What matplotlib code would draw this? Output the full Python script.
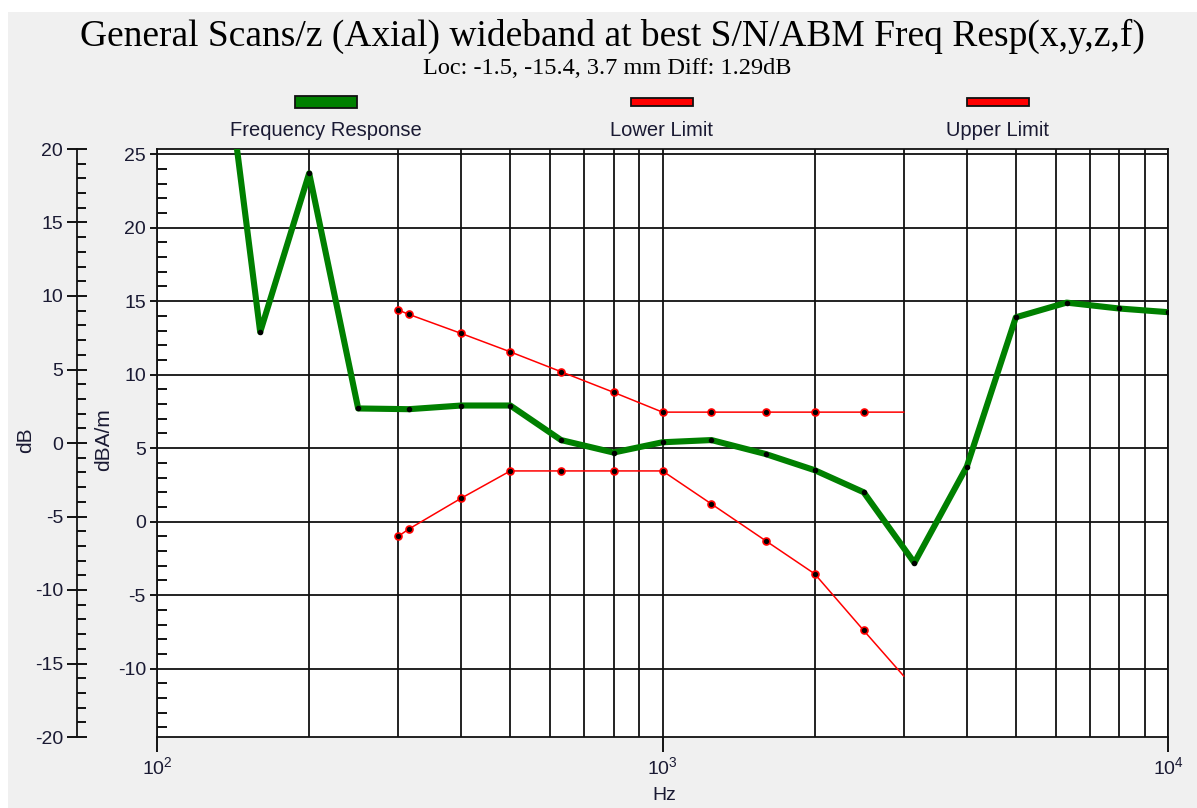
import numpy as np
import matplotlib
matplotlib.use("Agg")
from matplotlib import pyplot as plt, ticker as mtick
from matplotlib.patches import Rectangle

plt.rcParams['font.family'] = ['Liberation Sans', 'DejaVu Sans']
plt.rcParams['mathtext.default'] = 'regular'
plt.rcParams['axes.unicode_minus'] = False

# Measured frequency response (dBA/m) and limit lines
freq_hz = [125, 160, 200, 250, 315, 400, 500, 630, 800, 1000, 1250, 1600, 2000, 2500, 3150, 4000, 5000, 6300, 8000, 10000]
response_dba = [42.0, 12.9, 23.7, 7.7, 7.65, 7.9, 7.9, 5.55, 4.7, 5.4, 5.55, 4.6, 3.5, 2.0, -2.8, 3.75, 13.9, 14.9, 14.5, 14.25]

limit_freq = [300, 315, 400, 500, 630, 800, 1000, 1250, 1600, 2000, 2500, 3000]
upper_limit = [14.4, 14.1, 12.8, 11.55, 10.2, 8.8, 7.45, 7.45, 7.45, 7.45, 7.45, 7.45]
lower_limit = [-1.0, -0.5, 1.6, 3.45, 3.45, 3.45, 3.45, 1.2, -1.3, -3.55, -7.4, -10.5]

title = "General Scans/z (Axial) wideband at best S/N/ABM Freq Resp(x,y,z,f)"
subtitle = "Loc: -1.5, -15.4, 3.7 mm Diff: 1.29dB"
legend_names = ["Frequency Response", "Lower Limit", "Upper Limit"]
legend_colors = ["#008000", "#ff0000", "#ff0000"]

W, H = 1197, 808
fig = plt.figure(figsize=(W / 100, H / 100), dpi=100, facecolor="white")
fig.patches.append(Rectangle((8 / W, 0), 1, 1 - 12 / H, transform=fig.transFigure,
                             facecolor="#f0f0f0", edgecolor="none", zorder=-10))

txt_color = "#1a1a33"
left, right, top, bottom = 157 / W, 1168 / W, 1 - 149 / H, 1 - 737 / H

# Main plot (dBA/m)
ax = fig.add_axes([left, bottom, right - left, top - bottom])
ax.set_facecolor("white")
ax.set_xscale("log")
ax.set_xlim(100, 10000)
ax.set_ylim(-14.65, 25.35)

ax.plot(freq_hz, response_dba, color="#008000", lw=4.4, zorder=5, solid_joinstyle="round")
ax.plot(freq_hz, response_dba, "o", color="black", ms=3, zorder=6)
for lim in [upper_limit, lower_limit]:
    ax.plot(limit_freq, lim, color="#ff0000", lw=1.1, zorder=4)
    ax.plot(limit_freq[:-1], lim[:-1], "o", mfc="black", mec="#ff0000", mew=1.2, ms=5, zorder=4)

ax.xaxis.set_major_locator(mtick.LogLocator(base=10, numticks=10))
ax.xaxis.set_minor_locator(mtick.LogLocator(base=10, subs=np.arange(2, 10), numticks=20))
ax.xaxis.set_minor_formatter(mtick.NullFormatter())
ax.xaxis.set_major_formatter(mtick.FuncFormatter(lambda v, p: r"$10^{%d}$" % round(np.log10(v))))
ax.yaxis.set_major_locator(mtick.MultipleLocator(5))
ax.yaxis.set_minor_locator(mtick.MultipleLocator(1))

ax.grid(which="both", axis="x", color="#111111", lw=1.3)
ax.grid(which="major", axis="y", color="#111111", lw=1.3)
ax.set_axisbelow(True)
for s in ax.spines.values():
    s.set_color("#111111")
    s.set_linewidth(1.3)

ax.tick_params(axis="x", which="major", direction="out", length=11, width=1.3, pad=3,
               labelsize=14, labelcolor=txt_color)
ax.tick_params(axis="x", which="minor", length=0)
ax.tick_params(axis="y", which="major", direction="out", length=5, width=1.3, pad=3,
               labelsize=14, labelcolor=txt_color)
ax.tick_params(axis="y", which="minor", direction="in", length=7, width=1.3)

# Outer dB axis
ax2 = fig.add_axes([77 / W, bottom, 0.005, top - bottom])
ax2.set_facecolor("none")
ax2.set_ylim(-20, 20)
for name in ["top", "right", "bottom"]:
    ax2.spines[name].set_visible(False)
ax2.spines["left"].set_color("#111111")
ax2.spines["left"].set_linewidth(1.3)
ax2.set_xticks([])
ax2.yaxis.set_major_locator(mtick.MultipleLocator(5))
ax2.yaxis.set_minor_locator(mtick.MultipleLocator(1))
ax2.tick_params(axis="y", which="major", direction="inout", length=14, width=1.3, pad=3,
                labelsize=14, labelcolor=txt_color)
ax2.tick_params(axis="y", which="minor", direction="in", length=6.5, width=1.3)

# Axis labels
fig.text(26 / W, 1 - 440 / H, "dB", rotation=90, ha="center", va="center", fontsize=15, color=txt_color)
fig.text(104 / W, 1 - 440 / H, "dBA/m", rotation=90, ha="center", va="center", fontsize=15, color=txt_color)
fig.text(664 / W, 1 - 795 / H, "Hz", ha="center", va="center", fontsize=14, color=txt_color)

# Titles
fig.text(0.512, 1 - 36 / H, title, ha="center", va="center", fontsize=27,
         family="Liberation Serif", color="black")
fig.text(607 / W, 1 - 69 / H, subtitle, ha="center", va="center", fontsize=17.5,
         family="Liberation Serif", color="black")

# Legend
legend_x = [326, 662, 998]
for cx, name, col in zip(legend_x, legend_names, legend_colors):
    h = 12 if name == legend_names[0] else 8
    fig.patches.append(Rectangle(((cx - 31) / W, 1 - (102 + h / 2) / H), 62 / W, h / H,
                                 transform=fig.transFigure, facecolor=col,
                                 edgecolor="#111111", lw=1.3))
    fig.text(cx / W, 1 - 131 / H, name, ha="center", va="center", fontsize=14.5, color=txt_color)

fig.savefig("out.png", dpi=100, facecolor=fig.get_facecolor())
